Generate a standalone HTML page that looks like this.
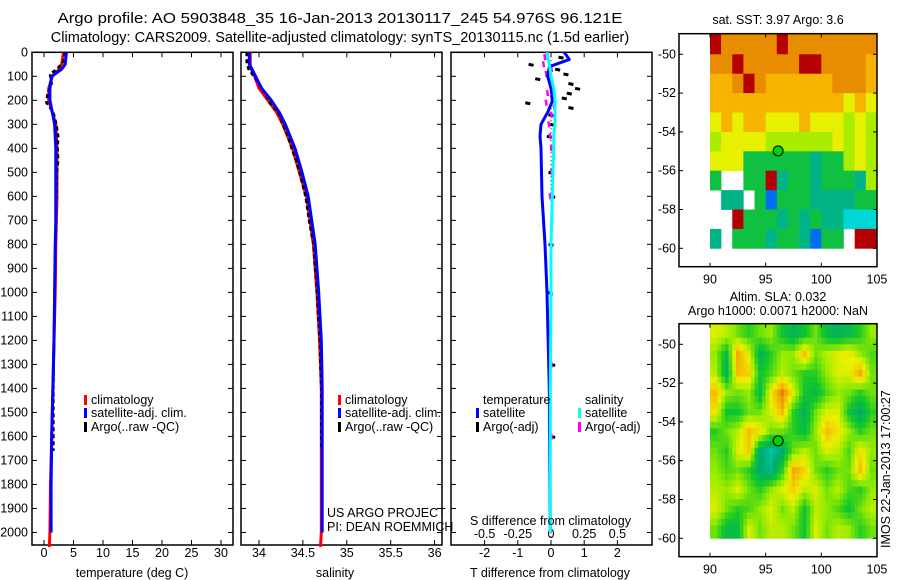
<!DOCTYPE html>
<html><head><meta charset="utf-8"><style>
html,body{margin:0;padding:0;background:#fff;}
svg{display:block;font-family:"Liberation Sans",sans-serif;}
</style></head><body>
<svg id="fig" width="900" height="580" viewBox="0 0 900 580" xmlns="http://www.w3.org/2000/svg">
<rect width="900" height="580" fill="#fff"/>
<text x="340" y="23" font-size="15" text-anchor="middle" textLength="565" lengthAdjust="spacingAndGlyphs">Argo profile: AO 5903848_35 16-Jan-2013 20130117_245 54.976S 96.121E</text>
<text x="340" y="42" font-size="14.5" text-anchor="middle">Climatology: CARS2009. Satellite-adjusted climatology: synTS_20130115.nc (1.5d earlier)</text>
<g id="g1"></g><g id="g2"></g><g id="g3"></g><g id="m1"></g><g id="m2"></g>
</svg>
<script>
// ---------- data ----------
const depthClim = [0,50,70,100,150,200,250,300,400,500,600,700,800,1000,1200,1400,1600,1800,2000,2060];
const tempClim  = [3.3,3.0,2.6,1.4,0.8,0.8,1.4,2.0,2.2,2.2,2.2,2.1,2.0,1.9,1.7,1.5,1.3,1.1,1.0,0.9];
const tempSat   = [3.8,3.6,3.0,1.3,1.0,1.0,1.4,1.8,2.0,2.0,2.0,2.0,1.9,1.8,1.7,1.5,1.3,1.2,1.2,1.2];
const depthArgo = [0,40,70,90,130,170,210,250,300,350,400,450,500,600,700,800,1000,1200,1400,1660];
const tempArgo  = [3.5,3.2,2.2,1.0,1.3,0.6,0.4,1.6,2.1,2.4,2.3,2.4,2.2,2.1,2.0,1.9,1.8,1.7,1.6,1.6];
const salClim   = [33.90,33.90,33.91,33.95,34.00,34.10,34.20,34.27,34.38,34.46,34.54,34.58,34.62,34.66,34.69,34.71,34.71,34.71,34.71,34.70];
const salSat    = [33.89,33.89,33.92,33.96,34.03,34.14,34.23,34.30,34.41,34.49,34.56,34.60,34.64,34.68,34.71,34.72,34.72,34.72,34.72,34.72];
const salArgo   = [33.86,33.86,33.88,33.92,34.00,34.07,34.12,34.22,34.27,34.33,34.37,34.42,34.46,34.53,34.57,34.62,34.66,34.69,34.71,34.71];
const depthDiff = [0,30,60,100,150,200,250,300,350,400,600,800,1000,1400,2000];
const tDiffSat  = [0.4,0.55,-0.05,-0.1,0.0,0.05,-0.1,-0.3,-0.33,-0.3,-0.27,-0.18,-0.12,-0.05,-0.02];
const sDiffSat  = [-0.03,-0.02,-0.01,0.0,0.02,0.03,0.03,0.03,0.02,0.02,0.01,0.0,0.0,-0.005,-0.005];
const depthDiffArgo = [20,50,70,90,110,130,150,170,190,210,230,260,300,350,400,500,600,800,1000,1300,1600];
const tDiffArgo = [0.3,-0.6,0.2,0.45,-0.4,0.6,0.8,0.55,0.4,-0.7,0.6,0.0,0.05,-0.05,0.05,0.0,0.05,0.0,-0.05,0.05,0.05];
const sDiffArgo = [-0.05,-0.06,0.0,-0.04,0.0,-0.01,0.01,-0.03,0.0,-0.04,0.02,0.0,-0.02,-0.01,0.0,0.0,-0.01,0.0,0.0,0.0,0.0];
const depthTicks = [0,100,200,300,400,500,600,700,800,900,1000,1100,1200,1300,1400,1500,1600,1700,1800,1900,2000];
const tempTicks = [0,5,10,15,20,25,30];
const salTicks = [34,34.5,35,35.5,36];
const salTickLabels = ["34","34.5","35","35.5","36"];
const tdTicks = [-2,-1,0,1,2];
const sdTicks = [-0.5,-0.25,0,0.25,0.5];
const sdTickLabels = ["-0.5","-0.25","0","0.25","0.5"];
const lonTicks = [90,95,100,105];
const latTicks = [-50,-52,-54,-56,-58,-60];
const argoLon = 96.121, argoLat = -54.976;
const sstRows = [
"ROOOOOROOOOOOOO",
"OOROOOOORROOOOA",
"AAOROAAAAAAOOOA",
"AAAAAAAAAAAAYAY",
"YAYAAYYYAYYYLYL",
"LYYYYLLLLLLYLYL",
"YYYGGGGGGTGGLYL",
"G..GGRTGGTGGGTL",
".TT.GBGGGTTTTGG",
"..RGGGTGTGTTCCC",
"T.GGGTGGTBGG.RR"];
const slaRows = [
[0.3,0.2,0,-0.2,0,0.1,-0.3,-0.5,-0.3,0,-0.4,-0.5,-0.4,-0.2,0.1],
[0.1,-0.4,0.7,0.3,-0.5,-0.2,0.1,0.1,0.6,0,0.2,0.3,0.4,0.1,-0.1],
[0.2,-0.5,0.6,0.5,-0.3,-0.1,0.2,0,-0.2,-0.2,0.1,0.3,0.3,0.7,0],
[0.6,0.1,0,0.1,-0.4,0.4,0.9,0.3,-0.3,-0.4,-0.1,0.1,0,-0.2,0],
[0.4,-0.3,-0.3,0,0,0.3,0.6,-0.2,-0.5,0,0.3,0.3,-0.3,-0.6,-0.2],
[-0.2,0,0.2,0.6,0.4,0,0,-0.2,-0.4,0.1,0.6,0.4,0.1,-0.2,0],
[0,-0.2,0.3,0.5,-0.6,-0.8,-0.6,0,0.2,0,0.3,0.2,-0.1,0.4,0.1],
[0.1,-0.1,0,-0.2,-0.6,-0.7,-0.2,0.7,0.5,0,-0.2,0,0,0.6,0],
[0.2,0.1,0.3,0,-0.2,0.1,0.3,0.5,0.2,0.3,0,0.2,-0.1,-0.2,0.1],
[0.3,0,-0.2,-0.1,0.1,0.3,0,0.2,-0.3,0.2,0.1,-0.1,-0.3,0,0.2],
[0,-0.4,-0.4,0.3,0,0.2,0.2,0,-0.3,0.3,0,0.2,0.1,-0.2,0]];

// ---------- helpers ----------
const NS="http://www.w3.org/2000/svg";
function mk(parent,tag,attrs,text){const e=document.createElementNS(NS,tag);for(const k in attrs)e.setAttribute(k,attrs[k]);if(text!==undefined)e.textContent=text;parent.appendChild(e);return e;}
const yTop=52.3, yPer=0.2401, yBot=545;
function yD(d){return yTop+d*yPer;}
function xT(v){return 44+v*5.9;}
function xS(v){return 259+(v-34)*87.8;}
function xTD(v){return 551+v*33.2;}
function xSD(v){return 551+v*4*33.2;}

function panel(g,x0,x1,name){
  const r=mk(g,'rect',{x:x0,y:yTop,width:x1-x0,height:yBot-yTop,fill:'none',stroke:'#000','stroke-width':1.5});
  
  
  depthTicks.forEach(d=>{
    const t1=mk(g,'line',{x1:x0,x2:x0+5,y1:yD(d),y2:yD(d),stroke:'#000'});
    
    
    const t2=mk(g,'line',{x1:x1-5,x2:x1,y1:yD(d),y2:yD(d),stroke:'#000'});
    
    
  });
}
function xticks(g,ticks,labels,fx,ly){
  ticks.forEach((v,i)=>{
    const x=fx(v);
    const a=mk(g,'line',{x1:x,x2:x,y1:yBot,y2:yBot-5,stroke:'#000'});
    
    
    const b=mk(g,'line',{x1:x,x2:x,y1:yTop,y2:yTop+5,stroke:'#000'});
    
    
    if(ly){const t=mk(g,'text',{x:x,y:ly,'font-size':12.5,'text-anchor':'middle'},labels[i]);
    
    }
  });
}
function line(g,xs,ds,fx,color,w,dash,name){
  const pts=xs.map((v,i)=>fx(v).toFixed(1)+','+yD(ds[i]).toFixed(1)).join(' ');
  const p=mk(g,'polyline',{points:pts,fill:'none',stroke:color,'stroke-width':w,'stroke-linejoin':'round'});
  if(dash)p.setAttribute('stroke-dasharray',dash);
  
  
}
function legend(g,x,y,color,label,name){
  const m=mk(g,'rect',{x:x,y:y-9,width:3,height:10,fill:color});
  
  
  const t=mk(g,'text',{x:x+7,y:y,'font-size':12.5},label);
  
  
}
function txt(g,x,y,s,name,extra){const t=mk(g,'text',Object.assign({x:x,y:y,'font-size':12.5},extra||{}),s);
  
  return t;}

// ---------- panel 1 ----------
const g1=document.getElementById('g1');
panel(g1,32,233,'temperature-panel');
depthTicks.forEach(d=>{txt(g1,28,yD(d)+4,String(d),'depth-tick-label',{'text-anchor':'end'});});
xticks(g1,tempTicks,tempTicks.map(String),xT,557);
line(g1,tempClim,depthClim,xT,'#ff0000',3,null,'temperature-climatology-line');
line(g1,tempArgo,depthArgo,xT,'#000',2.5,'4 3','temperature-argo-line');
line(g1,tempSat,depthClim.slice(0,19),xT,'#0000ff',3,null,'temperature-satellite-line');
legend(g1,84,404,'#ff0000','climatology','legend-climatology');
legend(g1,84,417,'#0000ff','satellite-adj. clim.','legend-satellite');
legend(g1,84,431,'#000','Argo(..raw -QC)','legend-argo');
txt(g1,132,577,'temperature (deg C)','x-axis-title-temperature',{'text-anchor':'middle'});

// ---------- panel 2 ----------
const g2=document.getElementById('g2');
panel(g2,241,442,'salinity-panel');
xticks(g2,salTicks,salTickLabels,xS,557);
line(g2,salClim,depthClim,xS,'#ff0000',3,null,'salinity-climatology-line');
line(g2,salArgo,depthArgo,xS,'#000',2.5,'4 3','salinity-argo-line');
line(g2,salSat.slice(0,19),depthClim.slice(0,19),xS,'#0000ff',3,null,'salinity-satellite-line');
legend(g2,338,404,'#ff0000','climatology','legend-climatology');
legend(g2,338,417,'#0000ff','satellite-adj. clim.','legend-satellite');
legend(g2,338,431,'#000','Argo(..raw -QC)','legend-argo');
txt(g2,327,517,'US ARGO PROJECT','pi-project-label');
txt(g2,327,531,'PI: DEAN ROEMMICH','pi-name-label');
txt(g2,335,577,'salinity','x-axis-title-salinity',{'text-anchor':'middle'});

// ---------- panel 3 ----------
const g3=document.getElementById('g3');
panel(g3,451,652,'difference-panel');
xticks(g3,tdTicks,tdTicks.map(String),xTD,557);
sdTicks.forEach((v,i)=>{txt(g3,xSD(v),538,sdTickLabels[i],'s-diff-tick-label',{'text-anchor':'middle'});});
const zl=mk(g3,'line',{x1:xTD(0),x2:xTD(0),y1:yTop,y2:yBot,stroke:'#000','stroke-dasharray':'1 3'});


depthDiffArgo.forEach((d,i)=>{
  const x=xTD(tDiffArgo[i]);
  const a=mk(g3,'line',{x1:x-2.5,x2:x+2.5,y1:yD(d),y2:yD(d)+1,stroke:'#000','stroke-width':3});
  
  
  const xs=xSD(sDiffArgo[i]);
  const b=mk(g3,'line',{x1:xs,x2:xs+1,y1:yD(d)-3,y2:yD(d)+3,stroke:'#ff00ff','stroke-width':2.5});
  
  
});
line(g3,tDiffSat,depthDiff,xTD,'#0000ff',3,null,'t-diff-satellite-line');
line(g3,sDiffSat.slice(0,15),depthDiff,xSD,'#00ffff',3,null,'s-diff-satellite-line');
txt(g3,483,404,'temperature','legend-temperature-header');
txt(g3,585,404,'salinity','legend-salinity-header');
legend(g3,476,417,'#0000ff','satellite','legend-t-satellite');
legend(g3,476,431,'#000','Argo(-adj)','legend-t-argo');
legend(g3,578,417,'#00ffff','satellite','legend-s-satellite');
legend(g3,578,431,'#ff00ff','Argo(-adj)','legend-s-argo');
txt(g3,470,525,'S difference from climatology','s-diff-axis-title');
txt(g3,550,577,'T difference from climatology','x-axis-title-t-diff',{'text-anchor':'middle'});

// ---------- maps ----------
const mx0=679,mx1=877;
function mX(lon){return 710+(lon-90)*11.13;}
function mapFrame(g,yOff,name){
  const lY=lat=>yOff+54.3+(-50-lat)*19.4;
  const fy0=yOff+33.7, fy1=yOff+266.7;
  return {lY,fy0,fy1,finish(){
    const r=mk(g,'rect',{x:mx0,y:fy0,width:mx1-mx0,height:fy1-fy0,fill:'none',stroke:'#000','stroke-width':1.5});
    
    
    lonTicks.forEach(v=>{const x=mX(v);
      const a=mk(g,'line',{x1:x,x2:x,y1:fy1,y2:fy1-4,stroke:'#000'});
      
      
      const b=mk(g,'line',{x1:x,x2:x,y1:fy0,y2:fy0+4,stroke:'#000'});
      
      
      txt(g,x,fy1+17,String(v),'lon-tick-label',{'text-anchor':'middle'});});
    latTicks.forEach(v=>{const y=lY(v);
      const a=mk(g,'line',{x1:mx0,x2:mx0+4,y1:y,y2:y,stroke:'#000'});
      
      
      const b=mk(g,'line',{x1:mx1-4,x2:mx1,y1:y,y2:y,stroke:'#000'});
      
      
      txt(g,676,y+4,String(v),'lat-tick-label',{'text-anchor':'end'});});
    const c=mk(g,'circle',{cx:mX(argoLon),cy:lY(argoLat),r:5,fill:'#00d000',stroke:'#000','stroke-width':1});
    
    
  }};
}
const sstCol={R:'#b40000',O:'#e88c00',A:'#f6b400',Y:'#e6f000',L:'#a8ec00',G:'#10c040',T:'#00b488',C:'#00d8d8',B:'#0070f0'};
const m1=document.getElementById('m1');
const f1=mapFrame(m1,0,'sst-map');
sstRows.forEach((row,i)=>{
  [...row].forEach((ch,j)=>{
    if(ch==='.')return;
    const latT=i===0?-48.9:-49-i, latB=-50-i;
    const c=mk(m1,'rect',{x:mX(90+j),y:f1.lY(latT),width:11.4,height:f1.lY(latB)-f1.lY(latT)+0.4,fill:sstCol[ch]});
    
    
  });
});
f1.finish();
txt(m1,778,24,'sat. SST: 3.97 Argo: 3.6','sst-map-title',{'text-anchor':'middle'});

function slaColor(v){
  const stops=[[-1,[0,220,220]],[-0.6,[0,170,110]],[-0.25,[20,200,40]],[0.1,[150,235,0]],[0.35,[235,240,0]],[0.65,[245,180,0]],[1,[225,110,20]]];
  if(v<=stops[0][0])return 'rgb('+stops[0][1]+')';
  for(let k=1;k<stops.length;k++){if(v<=stops[k][0]){const [a,ca]=stops[k-1],[b,cb]=stops[k];const t=(v-a)/(b-a);
    return 'rgb('+ca.map((c,i)=>Math.round(c+(cb[i]-c)*t)).join(',')+')';}}
  return 'rgb('+stops[stops.length-1][1]+')';
}
const m2=document.getElementById('m2');
const f2=mapFrame(m2,290,'sla-map');
const nR=slaRows.length,nC=slaRows[0].length,sub=3;
function slaAt(r,c){r=Math.max(0,Math.min(nR-1,r));c=Math.max(0,Math.min(nC-1,c));
  const r0=Math.floor(r),c0=Math.floor(c),r1=Math.min(nR-1,r0+1),c1=Math.min(nC-1,c0+1),fr=r-r0,fc=c-c0;
  return slaRows[r0][c0]*(1-fr)*(1-fc)+slaRows[r0][c1]*(1-fr)*fc+slaRows[r1][c0]*fr*(1-fc)+slaRows[r1][c1]*fr*fc;}
for(let i=0;i<nR*sub;i++){for(let j=0;j<nC*sub;j++){
  const latT=-49-i/sub, latB=-49-(i+1)/sub;
  const v=slaAt((i+0.5)/sub-0.5,(j+0.5)/sub-0.5);
  const y0=i===0?f2.lY(-48.9):f2.lY(latT);
  const c=mk(m2,'rect',{x:mX(90+j/sub),y:y0,width:11.13/sub+0.4,height:f2.lY(latB)-y0+0.4,fill:slaColor(v)});
  
  
}}
f2.finish();
txt(m2,778,301,'Altim. SLA: 0.032','sla-map-title',{'text-anchor':'middle'});
txt(m2,778,315,'Argo h1000: 0.0071 h2000: NaN','sla-map-subtitle',{'text-anchor':'middle'});
txt(m2,0,0,'IMOS 22-Jan-2013 17:00:27','imos-timestamp',{transform:'translate(890,548) rotate(-90)'});
</script>
</body></html>
